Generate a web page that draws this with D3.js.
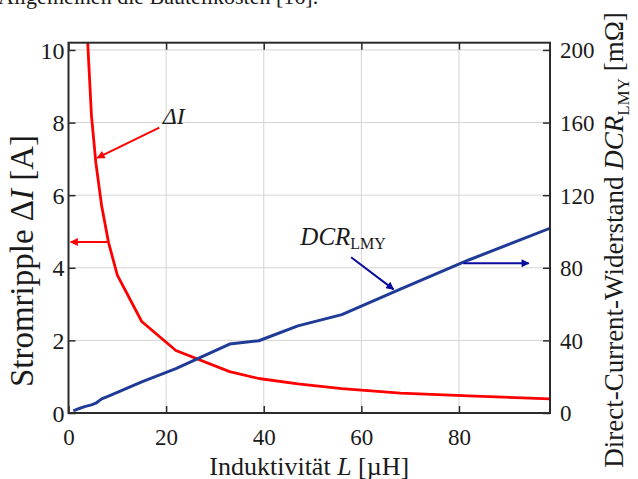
<!DOCTYPE html>
<html>
<head>
<meta charset="utf-8">
<script src="https://cdn.jsdelivr.net/npm/d3@7"></script>
<style>
  html, body { margin: 0; padding: 0; background: #fff; }
  svg { display: block; }
  text { font-family: "Liberation Serif", "Times New Roman", serif; fill: #1a1a1a; }
</style>
</head>
<body>
<svg id="chart"></svg>
<script>
// Stromripple (red)
const rippleL = [3.3, 3.9, 4.7, 5.6, 6.8, 8.2, 10, 15, 22, 33, 39, 47, 56, 68, 82, 100]
const rippleA = [12.3, 10.3, 8.2, 6.9, 5.7, 4.7, 3.8, 2.52, 1.72, 1.14, 0.95, 0.8, 0.67, 0.55, 0.47, 0.38]

// DCR_LMY (blue), mOhm
const dcrL = [1, 2.2, 3.3, 4.7, 5.6, 6.8, 8.2, 10, 15, 22, 33, 39, 47, 56, 68, 82, 100]
const dcrMOhm = [1.2, 2.5, 3.5, 4.5, 5.4, 7.8, 9.3, 11.3, 17.2, 24.4, 38, 39.8, 48, 54.2, 68.3, 84.3, 103.2]

const xTicks = [0, 20, 40, 60, 80]
const yLeftTicks = [0, 2, 4, 6, 8, 10]
const yRightTicks = [0, 40, 80, 120, 160, 200]

const W = 638, H = 479
const plot = { left: 68.5, right: 550, top: 42.7, bottom: 413 }

const svg = d3.select("#chart").attr("width", W).attr("height", H)

const x = d3.scaleLinear().domain([0, 98.65]).range([plot.left, plot.right])
const y = d3.scaleLinear().domain([0, 10.2]).range([plot.bottom, plot.top])
const y2 = d3.scaleLinear().domain([0, 204]).range([plot.bottom, plot.top])

const RED = "#ff0000"
const BLUE = "#1f3b97"
const ARROW_BLUE = "#0a0a9c"

// text from the page above the figure (cut off)
svg.append("text")
  .attr("x", -2).attr("y", 4)
  .style("font-size", "22px")
  .text("Allgemeinen die Bauteilkosten [16].")

const defs = svg.append("defs")
defs.append("clipPath").attr("id", "clip")
  .append("rect")
  .attr("x", plot.left).attr("y", plot.top)
  .attr("width", plot.right - plot.left)
  .attr("height", plot.bottom - plot.top)

const mkArrow = (id, color) => {
  defs.append("marker")
    .attr("id", id)
    .attr("viewBox", "0 0 10 10")
    .attr("refX", 9).attr("refY", 5)
    .attr("markerWidth", 5).attr("markerHeight", 4)
    .attr("markerUnits", "strokeWidth")
    .attr("orient", "auto")
    .append("path")
    .attr("d", "M0,0 L10,5 L0,10 z")
    .attr("fill", color)
}
mkArrow("arrRed", RED)
mkArrow("arrBlue", ARROW_BLUE)

/*
  Grid
*/
const grid = svg.append("g").attr("stroke", "#d4d4d4").attr("stroke-width", 1)
grid.selectAll(".gx")
  .data(xTicks.filter((d) => d > 0))
  .enter().append("line")
  .attr("x1", (d) => x(d)).attr("x2", (d) => x(d))
  .attr("y1", plot.top).attr("y2", plot.bottom)
grid.selectAll(".gy")
  .data(yLeftTicks.filter((d) => d > 0))
  .enter().append("line")
  .attr("x1", plot.left).attr("x2", plot.right)
  .attr("y1", (d) => y(d)).attr("y2", (d) => y(d))

/*
  Curves
*/
const curves = svg.append("g").attr("clip-path", "url(#clip)")

const rippleLine = d3.line().x((d, i) => x(rippleL[i])).y((d) => y(d))
curves.append("path")
  .datum(rippleA)
  .attr("d", rippleLine)
  .attr("fill", "none")
  .attr("stroke", RED)
  .attr("stroke-width", 2.8)
  .attr("stroke-linejoin", "round")

const dcrLine = d3.line().x((d, i) => x(dcrL[i])).y((d) => y2(d))
curves.append("path")
  .datum(dcrMOhm)
  .attr("d", dcrLine)
  .attr("fill", "none")
  .attr("stroke", BLUE)
  .attr("stroke-width", 3)
  .attr("stroke-linejoin", "round")

/*
  Axes (box with inward ticks)
*/
const axisColor = "#2b2b2b"
const styleAxis = (g) => {
  g.select(".domain").remove()
  g.selectAll(".tick line").attr("stroke", axisColor).attr("stroke-width", 1.5)
  g.selectAll(".tick text").attr("fill", "#1a1a1a").style("font-family", "Liberation Serif, serif")
}

svg.append("g")
  .attr("transform", `translate(0,${plot.bottom})`)
  .call(d3.axisBottom(x).tickValues(xTicks).tickSizeInner(-7).tickSizeOuter(0).tickPadding(16))
  .call(styleAxis)
  .call((g) => g.selectAll(".tick text").style("font-size", "23px"))

svg.append("g")
  .attr("transform", `translate(0,${plot.top})`)
  .call(d3.axisTop(x).tickValues(xTicks).tickSizeInner(-7).tickSizeOuter(0).tickFormat(""))
  .call(styleAxis)

svg.append("g")
  .attr("transform", `translate(${plot.left},0)`)
  .call(d3.axisLeft(y).tickValues(yLeftTicks).tickSizeInner(-7).tickSizeOuter(0).tickPadding(4))
  .call(styleAxis)
  .call((g) => g.selectAll(".tick text").style("font-size", "24px").attr("dy", "0.34em"))

svg.append("g")
  .attr("transform", `translate(${plot.right},0)`)
  .call(d3.axisRight(y2).tickValues(yRightTicks).tickSizeInner(-7).tickSizeOuter(0).tickPadding(10))
  .call(styleAxis)
  .call((g) => g.selectAll(".tick text").style("font-size", "23px").attr("dy", "0.34em"))

svg.append("rect")
  .attr("x", plot.left).attr("y", plot.top)
  .attr("width", plot.right - plot.left)
  .attr("height", plot.bottom - plot.top)
  .attr("fill", "none")
  .attr("stroke", axisColor)
  .attr("stroke-width", 2)

/*
  Axis titles
*/
svg.append("text")
  .attr("x", (plot.left + plot.right) / 2)
  .attr("y", 475)
  .attr("text-anchor", "middle")
  .style("font-size", "26px")
  .call((t) => {
    t.append("tspan").text("Induktivität ")
    t.append("tspan").style("font-style", "italic").text("L")
    t.append("tspan").text(" [µH]")
  })

svg.append("text")
  .attr("transform", "translate(33,261) rotate(-90)")
  .attr("text-anchor", "middle")
  .style("font-size", "33px")
  .call((t) => {
    t.append("tspan").text("Stromripple Δ")
    t.append("tspan").style("font-style", "italic").text("I")
    t.append("tspan").text(" [A]")
  })

svg.append("text")
  .attr("transform", "translate(623,240) rotate(-90)")
  .attr("text-anchor", "middle")
  .style("font-size", "27px")
  .call((t) => {
    t.append("tspan").text("Direct-Current-Widerstand ")
    t.append("tspan").style("font-style", "italic").text("DCR")
    t.append("tspan").attr("dy", 6).style("font-size", "17px").text("LMY")
    t.append("tspan").attr("dy", -6).text(" [mΩ]")
  })

/*
  Annotations (data coordinates)
*/
const ann = svg.append("g")

// ΔI label + arrow to the curve
ann.append("text")
  .attr("x", x(19.3)).attr("y", y(7.95))
  .style("font-size", "24px").style("font-style", "italic")
  .text("ΔI")
ann.append("line")
  .attr("x1", x(18.6)).attr("y1", y(7.86))
  .attr("x2", x(5.9)).attr("y2", y(7.03))
  .attr("stroke", RED).attr("stroke-width", 2)
  .attr("marker-end", "url(#arrRed)")

// red arrow: curve belongs to left axis
ann.append("line")
  .attr("x1", x(7.9)).attr("y1", y(4.71))
  .attr("x2", x(0.45)).attr("y2", y(4.71))
  .attr("stroke", RED).attr("stroke-width", 2)
  .attr("marker-end", "url(#arrRed)")

// DCR label + arrow
ann.append("text")
  .attr("x", x(47.5)).attr("y", y2(92.5))
  .style("font-size", "25px")
  .call((t) => {
    t.append("tspan").style("font-style", "italic").text("DCR")
    t.append("tspan").attr("dy", 4).style("font-size", "16px").text("LMY")
  })
ann.append("line")
  .attr("x1", x(57.9)).attr("y1", y2(85.8))
  .attr("x2", x(66.6)).attr("y2", y2(68.1))
  .attr("stroke", ARROW_BLUE).attr("stroke-width", 2)
  .attr("marker-end", "url(#arrBlue)")

// blue arrow: curve belongs to right axis
ann.append("line")
  .attr("x1", x(80.9)).attr("y1", y2(82.5))
  .attr("x2", x(94.3)).attr("y2", y2(82.5))
  .attr("stroke", ARROW_BLUE).attr("stroke-width", 2)
  .attr("marker-end", "url(#arrBlue)")
</script>
</body>
</html>
